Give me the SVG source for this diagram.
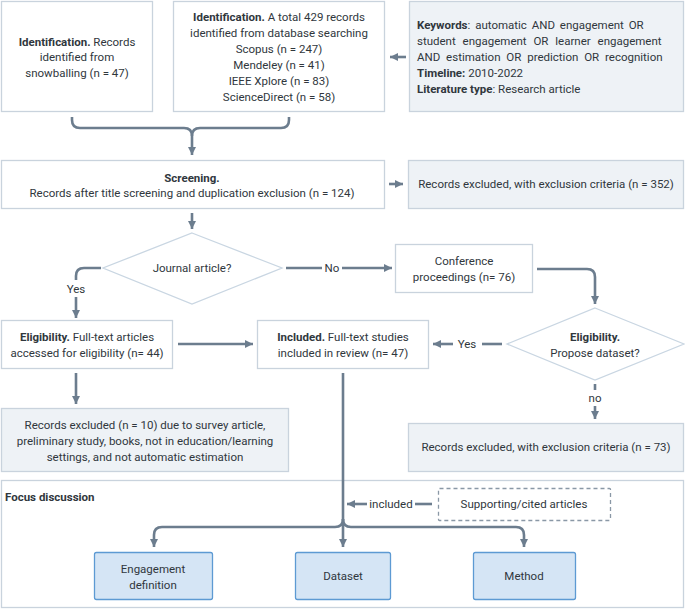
<svg xmlns="http://www.w3.org/2000/svg" width="685" height="609" viewBox="0 0 685 609">
<defs>
<style>
text{font-family:Roboto,"Liberation Sans",sans-serif;font-size:11.5px;fill:#30373d;text-anchor:middle}
.b{font-weight:bold}
.l{text-anchor:start}
.box{fill:#ffffff;stroke:#c9d3dd;stroke-width:1.3}
.gray{fill:#eef2f6;stroke:#c9d3dd;stroke-width:1.3}
.blue{fill:#d5e5f5;stroke:#5d9ad3;stroke-width:1.3}
.dia{fill:#ffffff;stroke:#c9d6e2;stroke-width:1.3}
.dash{fill:#ffffff;stroke:#8a98a6;stroke-width:1.3;stroke-dasharray:4 3}
.c{fill:none;stroke:#6c7d8e;stroke-width:2.6}
.a{marker-end:url(#ah)}
</style>
<marker id="ah" markerUnits="userSpaceOnUse" markerWidth="10" markerHeight="10" viewBox="0 0 10 10" refX="9" refY="5" orient="auto">
<path d="M1,1 L9,5 L1,9 z" fill="#6c7d8e"/>
</marker>
</defs>
<rect x="1.5" y="480.5" width="682" height="127" class="box" id="focus-frame"/>
<text x="5" y="501" class="b l">Focus discussion</text>
<g id="connectors">
<line x1="406" y1="57" x2="390" y2="57" class="c a"/>
<path d="M72,117 V120 Q72,128 80,128 H184 Q192,128 192,136 V155" class="c a"/>
<path d="M289,117 V120 Q289,128 281,128 H200 Q192,128 192,136" class="c"/>
<line x1="389" y1="184" x2="403" y2="184" class="c a"/>
<line x1="192" y1="213" x2="192" y2="229" class="c a"/>
<line x1="286" y1="268" x2="322" y2="268" class="c"/>
<text x="332" y="272">No</text>
<line x1="342" y1="268" x2="392" y2="268" class="c a"/>
<path d="M537,269 H587 Q595,269 595,277 V304" class="c a"/>
<line x1="502" y1="344" x2="482" y2="344" class="c"/>
<text x="467" y="348">Yes</text>
<line x1="453" y1="344" x2="433" y2="344" class="c a"/>
<path d="M101,268 H84 Q76,268 76,276 V280" class="c"/>
<text x="76" y="293">Yes</text>
<line x1="76" y1="297" x2="76" y2="318" class="c a"/>
<line x1="178" y1="344" x2="253" y2="344" class="c a"/>
<line x1="76" y1="373" x2="76" y2="404" class="c a"/>
<line x1="595" y1="384" x2="595" y2="390" class="c"/>
<text x="595" y="402">no</text>
<line x1="595" y1="406" x2="595" y2="419" class="c a"/>
<path d="M343,373 V547" class="c a"/>
<path d="M343,519 Q343,527 335,527 H162 Q154,527 154,535 V547" class="c a"/>
<path d="M343,519 Q343,527 351,527 H516 Q524,527 524,535 V547" class="c a"/>
<line x1="432" y1="504" x2="415" y2="504" class="c"/>
<text x="391" y="508">included</text>
<line x1="367" y1="504" x2="347" y2="504" class="c a"/>
</g>
<g id="id-snowball">
<rect x="1.5" y="1.5" width="151" height="110" class="box"/>
<text x="77" y="46"><tspan class="b">Identification.</tspan> Records</text>
<text x="77" y="61">identified from</text>
<text x="77" y="77">snowballing (n = 47)</text>
</g>
<g id="id-database">
<rect x="173.5" y="1.5" width="211" height="110" class="box"/>
<text x="279" y="21"><tspan class="b">Identification.</tspan> A total 429 records</text>
<text x="279" y="37">identified from database searching</text>
<text x="279" y="53">Scopus (n = 247)</text>
<text x="279" y="69">Mendeley (n = 41)</text>
<text x="279" y="85">IEEE Xplore (n = 83)</text>
<text x="279" y="101">ScienceDirect (n = 58)</text>
</g>
<g id="keywords">
<rect x="409.5" y="1.5" width="274" height="110" class="gray"/>
<text x="417" y="29" class="l" word-spacing="2"><tspan class="b">Keywords</tspan>: automatic AND engagement OR</text>
<text x="417" y="45" class="l" word-spacing="4">student engagement OR learner engagement</text>
<text x="417" y="61" class="l" word-spacing="3">AND estimation OR prediction OR recognition</text>
<text x="417" y="77" class="l"><tspan class="b">Timeline:</tspan> 2010-2022</text>
<text x="417" y="93" class="l"><tspan class="b">Literature type</tspan>: Research article</text>
</g>
<g id="screening">
<rect x="1.5" y="160.5" width="383" height="48" class="box"/>
<text x="192" y="182" class="b">Screening.</text>
<text x="192" y="197">Records after title screening and duplication exclusion (n = 124)</text>
</g>
<g id="excluded-352">
<rect x="408.5" y="160.5" width="275" height="48" class="gray"/>
<text x="546" y="188">Records excluded, with exclusion criteria (n = 352)</text>
</g>
<g id="journal">
<polygon points="192,233 282,268 192,304 103,268" class="dia"/>
<text x="192" y="272">Journal article?</text>
</g>
<g id="conference">
<rect x="395.5" y="244.5" width="137" height="48" class="box"/>
<text x="464" y="265">Conference</text>
<text x="464" y="281">proceedings (n= 76)</text>
</g>
<g id="propose-dataset">
<polygon points="595,308 684,344 595,380 507,344" class="dia"/>
<text x="595" y="341" class="b">Eligibility.</text>
<text x="595" y="357">Propose dataset?</text>
</g>
<g id="eligibility">
<rect x="1.5" y="320.5" width="171" height="48" class="box"/>
<text x="87" y="341"><tspan class="b">Eligibility.</tspan> Full-text articles</text>
<text x="87" y="357">accessed for eligibility (n= 44)</text>
</g>
<g id="included">
<rect x="257.5" y="320.5" width="171" height="48" class="box"/>
<text x="343" y="341"><tspan class="b">Included.</tspan> Full-text studies</text>
<text x="343" y="357">included in review (n= 47)</text>
</g>
<g id="excluded-10">
<rect x="1.5" y="408.5" width="287" height="63" class="gray"/>
<text x="145" y="429">Records excluded (n = 10) due to survey article,</text>
<text x="145" y="445">preliminary study, books, not in education/learning</text>
<text x="145" y="461">settings, and not automatic estimation</text>
</g>
<g id="excluded-73">
<rect x="408.5" y="423.5" width="275" height="48" class="gray"/>
<text x="546" y="451">Records excluded, with exclusion criteria (n = 73)</text>
</g>
<g id="supporting">
<rect x="438.5" y="488.5" width="172" height="32" rx="1" class="dash"/>
<text x="524" y="508">Supporting/cited articles</text>
</g>
<g id="engagement-definition">
<rect x="94.5" y="552.5" width="118" height="47" rx="2" class="blue"/>
<text x="153" y="573">Engagement</text>
<text x="153" y="589">definition</text>
</g>
<g id="dataset">
<rect x="295.5" y="552.5" width="95" height="47" rx="2" class="blue"/>
<text x="343" y="580">Dataset</text>
</g>
<g id="method">
<rect x="473.5" y="552.5" width="102" height="47" rx="2" class="blue"/>
<text x="524" y="580">Method</text>
</g>
</svg>
